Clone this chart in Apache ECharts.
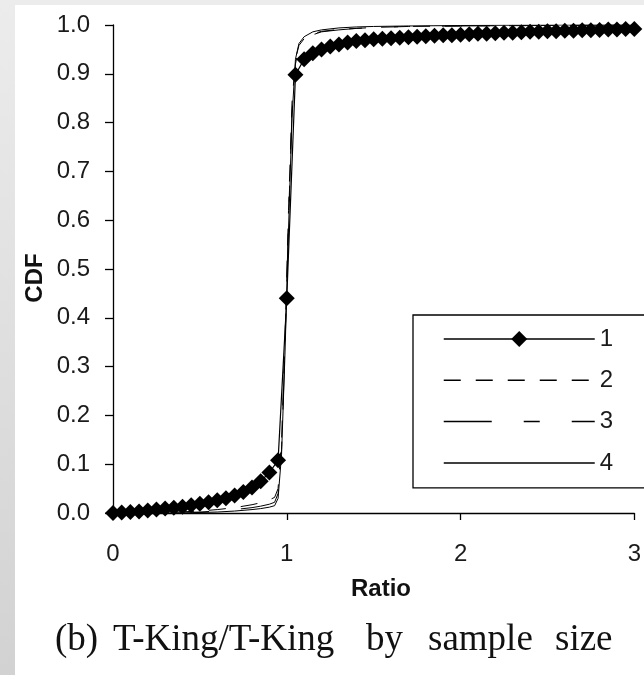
<!DOCTYPE html>
<html><head><meta charset="utf-8">
<script src="https://cdn.jsdelivr.net/npm/echarts@6/dist/echarts.min.js"></script>
<style>html,body{margin:0;padding:0;background:#fff}#c{width:644px;height:675px}</style>
</head><body><div id="c"></div>
<script>
const seriesNames = ['1', '2', '3', '4'];
const xTickLabels = ['0', '1', '2', '3'];

const ratio1 = [0,0.05,0.1,0.15,0.2,0.25,0.3,0.35,0.4,0.45,0.5,0.55,0.6,0.65,0.7,0.75,0.8,0.85,0.9,0.95,
  1.0,1.05,1.1,1.15,1.2,1.25,1.3,1.35,1.4,1.45,1.5,1.55,1.6,1.65,1.7,1.75,1.8,1.85,1.9,1.95,
  2.0,2.05,2.1,2.15,2.2,2.25,2.3,2.35,2.4,2.45,2.5,2.55,2.6,2.65,2.7,2.75,2.8,2.85,2.9,2.95,3.0];
const cdf1 = [0.000,0.001,0.002,0.003,0.005,0.007,0.009,0.011,0.013,0.016,0.019,0.022,0.026,0.030,0.036,0.043,0.052,0.065,0.083,0.108,
  0.440,0.898,0.930,0.942,0.950,0.956,0.960,0.964,0.967,0.969,0.971,0.972,0.973,0.974,0.975,0.976,0.977,0.978,0.979,0.979,
  0.980,0.981,0.982,0.982,0.983,0.984,0.984,0.985,0.986,0.986,0.987,0.987,0.988,0.988,0.989,0.989,0.990,0.991,0.991,0.992,0.992];

const ratio2 = [0,0.3,0.5,0.6,0.7,0.8,0.85,0.9,0.93,0.95,0.97,0.99,1.01,1.03,1.05,1.07,1.1,1.15,1.2,1.3,1.4,1.5,1.7,2.0,2.5,3.0];
const cdf2 = [0,0.001,0.004,0.007,0.011,0.017,0.021,0.027,0.032,0.05,0.15,0.36,0.62,0.84,0.93,0.958,0.972,0.982,0.987,0.991,0.993,0.995,0.997,0.998,0.999,1.0];

const ratio3 = [0,0.3,0.5,0.6,0.7,0.8,0.85,0.9,0.93,0.95,0.97,0.99,1.01,1.03,1.05,1.07,1.1,1.15,1.2,1.3,1.4,1.5,1.7,2.0,2.5,3.0];
const cdf3 = [0,0,0.002,0.004,0.007,0.011,0.014,0.018,0.022,0.04,0.13,0.34,0.60,0.82,0.92,0.955,0.970,0.980,0.986,0.990,0.993,0.995,0.997,0.998,0.999,1.0];

const ratio4 = [0,0.3,0.5,0.6,0.7,0.8,0.85,0.9,0.93,0.95,0.97,0.99,1.01,1.03,1.05,1.07,1.1,1.15,1.2,1.3,1.4,1.5,1.7,2.0,2.5,3.0];
const cdf4 = [0,0,0.001,0.002,0.004,0.007,0.009,0.012,0.015,0.03,0.12,0.33,0.58,0.81,0.93,0.962,0.976,0.986,0.990,0.994,0.996,0.997,0.998,0.999,1.0,1.0];

function pairs(xs, ys) { return xs.map((x, i) => [x, ys[i]]); }

const chart = echarts.init(document.getElementById('c'), null, {renderer: 'canvas'});
const sans = '"Liberation Sans", Arial, Helvetica, sans-serif';
const serif = '"Liberation Serif", "Times New Roman", serif';
const lineBase = {type: 'line', symbol: 'none', color: '#000', z: 3};
const capFont = '37px ' + serif;
const capY = 640;

const option = {
  backgroundColor: '#ffffff',
  animation: false,
  grid: {left: 113, right: 6, top: 25, bottom: 162},
  xAxis: {
    type: 'value', min: 0, max: 3, interval: 1,
    axisLine: {lineStyle: {color: '#000', width: 1.3}},
    axisTick: {length: 7, lineStyle: {color: '#000', width: 1.3}},
    axisLabel: {fontSize: 24, color: '#1a1a1a', margin: 29, fontFamily: sans,
      formatter: v => xTickLabels[Math.round(v)]},
    splitLine: {show: false}
  },
  yAxis: {
    type: 'value', min: 0, max: 1, interval: 0.1,
    axisLine: {show: true, lineStyle: {color: '#000', width: 1.3}},
    axisTick: {show: true, length: 8, lineStyle: {color: '#000', width: 1.3}},
    axisLabel: {fontSize: 24, color: '#1a1a1a', margin: 23, fontFamily: sans,
      formatter: v => v.toFixed(1)},
    splitLine: {show: false}
  },
  legend: {
    data: [
      {name: seriesNames[0]},
      {name: seriesNames[1], itemStyle: {opacity: 0}},
      {name: seriesNames[2], itemStyle: {opacity: 0}},
      {name: seriesNames[3], itemStyle: {opacity: 0}}
    ],
    orient: 'vertical',
    left: 413, top: 315,
    itemWidth: 151, itemHeight: 20, itemGap: 17.3,
    padding: [12, 33, 13, 30],
    borderColor: '#000', borderWidth: 1.3,
    backgroundColor: '#fff',
    lineStyle: {width: 1.5, color: '#000'},
    textStyle: {fontSize: 24, lineHeight: 20, color: '#1a1a1a', fontFamily: sans}
  },
  series: [
    {name: seriesNames[0], type: 'line', data: pairs(ratio1, cdf1), symbol: 'diamond', symbolSize: 16,
      itemStyle: {color: '#000'}, lineStyle: {color: '#000', width: 1.2}, z: 2},
    Object.assign({}, lineBase, {name: seriesNames[1], data: pairs(ratio2, cdf2),
      lineStyle: {color: '#000', width: 1, type: [17, 15]}}),
    Object.assign({}, lineBase, {name: seriesNames[2], data: pairs(ratio3, cdf3),
      lineStyle: {color: '#000', width: 1, type: [48, 32, 16, 32]}}),
    Object.assign({}, lineBase, {name: seriesNames[3], data: pairs(ratio4, cdf4),
      lineStyle: {color: '#000', width: 1, type: 'solid'}})
  ],
  graphic: [
    {type: 'rect', silent: true, z: -10, shape: {x: 0, y: 0, width: 15, height: 675},
      style: {fill: new echarts.graphic.LinearGradient(0, 0, 0, 1, [
        {offset: 0, color: '#ececec'}, {offset: 1, color: '#d2d2d2'}])}},
    {type: 'rect', silent: true, z: -10, shape: {x: 0, y: 0, width: 644, height: 5},
      style: {fill: '#ececec'}},
    {type: 'text', x: 35, y: 278, rotation: Math.PI / 2, silent: true,
      style: {text: 'CDF', font: 'bold 24px ' + sans, fill: '#111', textAlign: 'center', textVerticalAlign: 'middle'}},
    {type: 'text', x: 381, y: 589, silent: true,
      style: {text: 'Ratio', font: 'bold 24px ' + sans, fill: '#111', textAlign: 'center', textVerticalAlign: 'middle'}},
    {type: 'text', x: 55, y: capY, silent: true,
      style: {text: '(b)', font: capFont, fill: '#111', textAlign: 'left', textVerticalAlign: 'middle'}},
    {type: 'text', x: 113, y: capY, silent: true,
      style: {text: 'T-King/T-King', font: capFont, fill: '#111', textAlign: 'left', textVerticalAlign: 'middle'}},
    {type: 'text', x: 366, y: capY, silent: true,
      style: {text: 'by', font: capFont, fill: '#111', textAlign: 'left', textVerticalAlign: 'middle'}},
    {type: 'text', x: 428, y: capY, silent: true,
      style: {text: 'sample', font: capFont, fill: '#111', textAlign: 'left', textVerticalAlign: 'middle'}},
    {type: 'text', x: 555, y: capY, silent: true,
      style: {text: 'size', font: capFont, fill: '#111', textAlign: 'left', textVerticalAlign: 'middle'}}
  ]
};
chart.setOption(option);
</script>
</body></html>
